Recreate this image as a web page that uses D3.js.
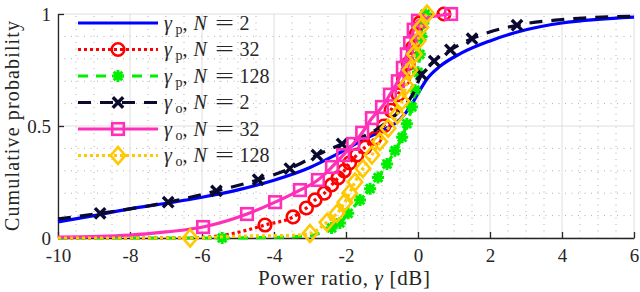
<!DOCTYPE html>
<html><head><meta charset="utf-8">
<script src="https://cdn.jsdelivr.net/npm/d3@7/dist/d3.min.js"></script>
<style>html,body{margin:0;padding:0;background:#fff;}svg{display:block;}</style>
</head><body>
<svg id="c" width="640" height="292"></svg>
<script>
// ---------- data ----------
const xTicks = [-10, -8, -6, -4, -2, 0, 2, 4, 6];
const yTicks = [0, 0.5, 1];
const yTickLabels = ["0", "0.5", "1"];

// gamma_p, N = 2 (blue solid, no markers)
const gpN2 = [[-10,0.072],[-9,0.1],[-8,0.13],[-7,0.155],[-6,0.182],[-5,0.215],[-4,0.258],[-3,0.315],[-2.3,0.37],[-1.5,0.44],[-1,0.48],[-0.5,0.53],[-0.2,0.59],[0,0.645],[0.25,0.71],[0.6,0.765],[1.2,0.825],[2,0.88],[3,0.93],[4,0.96],[5,0.976],[6,0.986]];
const gpN2Marks = [];

// gamma_p, N = 32 (red dotted, circles)
const gpN32 = [[-10,0],[-6.5,0],[-5.6,0.008],[-5.14,0.02],[-4.8,0.033],[-4.25,0.058],[-3.47,0.094],[-3.1,0.134],[-2.86,0.17],[-2.6,0.2],[-2.4,0.237],[-2.22,0.268],[-2.05,0.3],[-1.9,0.335],[-1.7,0.37],[-1.47,0.405],[-1.2,0.445],[-0.95,0.5],[-0.75,0.57],[-0.55,0.64],[-0.4,0.71],[-0.27,0.78],[-0.15,0.85],[-0.05,0.91],[0.05,0.96],[0.15,0.99],[0.72,1]];
const gpN32Marks = [[-4.25,0.058],[-3.47,0.094],[-3.1,0.134],[-2.86,0.17],[-2.6,0.2],[-2.4,0.237],[-2.22,0.268],[-2.05,0.3],[-1.9,0.335],[-1.7,0.37],[-1.47,0.405],[-1.2,0.445],[-0.95,0.5],[-0.75,0.57],[-0.55,0.64],[-0.4,0.71],[-0.27,0.78],[-0.15,0.85],[-0.05,0.91],[0.05,0.96],[0.72,1]];

// gamma_p, N = 128 (green dashed, asterisks)
const gpN128 = [[-10,0],[-5.44,0],[-4,0.003],[-3,0.01],[-2.6,0.03],[-2.4,0.045],[-2.17,0.067],[-1.94,0.11],[-1.61,0.17],[-1.33,0.22],[-1.11,0.27],[-0.86,0.33],[-0.64,0.39],[-0.44,0.45],[-0.31,0.51],[-0.17,0.585],[-0.08,0.66],[0,0.74],[0.05,0.82],[0.1,0.9],[0.15,0.96],[0.2,1]];
const gpN128Marks = [[-5.44,0],[-2.4,0.045],[-2.17,0.067],[-1.94,0.11],[-1.61,0.17],[-1.33,0.22],[-1.11,0.27],[-0.86,0.33],[-0.64,0.39],[-0.44,0.45],[-0.31,0.51],[-0.17,0.585],[-0.08,0.66],[0,0.74],[0.05,0.82],[0.1,0.9],[0.15,0.96],[0.2,1]];

// gamma_o, N = 2 (dark navy dashed, x marks)
const goN2 = [[-10,0.085],[-8.83,0.11],[-6.94,0.16],[-5.6,0.21],[-4.44,0.26],[-3.56,0.31],[-2.81,0.37],[-2.11,0.42],[-1.2,0.48],[-0.5,0.57],[-0.15,0.64],[0.1,0.73],[0.45,0.79],[0.9,0.84],[1.5,0.89],[2.75,0.95],[4,0.975],[6,0.99]];
const goN2Marks = [[-8.83,0.11],[-6.94,0.16],[-5.6,0.21],[-4.44,0.26],[-3.56,0.31],[-2.81,0.37],[-2.11,0.42],[0.1,0.73],[0.45,0.79],[0.9,0.84],[1.5,0.89],[2.75,0.95]];

// gamma_o, N = 32 (magenta solid, squares)
const goN32 = [[-10,0.004],[-8,0.013],[-7,0.027],[-5.97,0.049],[-4.75,0.107],[-3.97,0.16],[-3.28,0.214],[-2.78,0.259],[-2.39,0.317],[-2.08,0.37],[-1.8,0.42],[-1.55,0.47],[-1.28,0.535],[-1,0.585],[-0.78,0.64],[-0.56,0.7],[-0.42,0.76],[-0.31,0.82],[-0.22,0.87],[-0.12,0.93],[0,0.97],[0.92,1]];
const goN32Marks = [[-5.97,0.049],[-4.75,0.107],[-3.97,0.16],[-3.28,0.214],[-2.78,0.259],[-2.39,0.317],[-2.08,0.37],[-1.8,0.42],[-1.55,0.47],[-1.28,0.535],[-1,0.585],[-0.78,0.64],[-0.56,0.7],[-0.42,0.76],[-0.31,0.82],[-0.22,0.87],[-0.12,0.93],[0,0.97],[0.92,1]];

// gamma_o, N = 128 (yellow dotted, diamonds)
const goN128 = [[-10,0],[-6.33,0],[-5,0.008],[-3.5,0.012],[-3,0.02],[-2.53,0.07],[-2.25,0.11],[-2.03,0.16],[-1.9,0.2],[-1.75,0.25],[-1.53,0.31],[-1.28,0.37],[-1.06,0.43],[-0.83,0.49],[-0.58,0.55],[-0.45,0.61],[-0.33,0.68],[-0.22,0.75],[-0.1,0.82],[0,0.88],[0.08,0.94],[0.25,1]];
const goN128Marks = [[-6.33,0],[-3,0.02],[-2.53,0.07],[-2.25,0.11],[-2.03,0.16],[-1.9,0.2],[-1.75,0.25],[-1.53,0.31],[-1.28,0.37],[-1.06,0.43],[-0.83,0.49],[-0.58,0.55],[-0.45,0.61],[-0.33,0.68],[-0.22,0.75],[-0.1,0.82],[0,0.88],[0.08,0.94],[0.25,1]];

const seriesSub = ["p", "p", "p", "o", "o", "o"];
const seriesN = ["2", "32", "128", "2", "32", "128"];

// ---------- styling ----------
const styles = [
  {color:"#0000ff", dash:null,   marker:null},
  {color:"#ff0000", dash:"3,3",  marker:"circle"},
  {color:"#00ee00", dash:"10,8", marker:"star"},
  {color:"#0a0a30", dash:"13,9", marker:"x"},
  {color:"#ff2fb8", dash:null,   marker:"square"},
  {color:"#ffc800", dash:"3,3",  marker:"diamond"}
];
const curves = [gpN2, gpN32, gpN128, goN2, goN32, goN128];
const marks  = [gpN2Marks, gpN32Marks, gpN128Marks, goN2Marks, goN32Marks, goN128Marks];

const FONT = "'Liberation Serif','Times New Roman',serif";
const INK = "#262626";
const svg = d3.select("#c");
const L = 58, R = 634, T = 14, B = 238;
const x = d3.scaleLinear().domain([-10, 6]).range([L, R]);
const y = d3.scaleLinear().domain([0, 1]).range([B, T]);

// minor grid
const gMinor = svg.append("g").attr("stroke", "#b0b0b0").attr("stroke-width", 1).attr("stroke-dasharray", "1,5.5");
gMinor.selectAll("line.vx").data(d3.range(-10, 6.01, 0.5).filter(v => Math.abs(v % 2) > 1e-6))
  .join("line").attr("class","vx").attr("x1", d => x(d)).attr("x2", d => x(d)).attr("y1", B).attr("y2", T);
gMinor.selectAll("line.hy").data(d3.range(0, 1.001, 0.1).filter(v => Math.abs((v * 10) % 5) > 1e-6))
  .join("line").attr("class","hy").attr("y1", d => y(d)).attr("y2", d => y(d)).attr("x1", L).attr("x2", R);

// major grid
const gMajor = svg.append("g").attr("stroke", "#dedede").attr("stroke-width", 1);
gMajor.selectAll("line.v").data(xTicks).join("line").attr("class","v")
  .attr("x1", d => x(d)).attr("x2", d => x(d)).attr("y1", B).attr("y2", T);
gMajor.selectAll("line.h").data(yTicks).join("line").attr("class","h")
  .attr("y1", d => y(d)).attr("y2", d => y(d)).attr("x1", L).attr("x2", R);

// axes (inner ticks, box off)
const ax = svg.append("g").attr("transform", `translate(0,${B})`)
  .call(d3.axisBottom(x).tickValues(xTicks).tickSizeInner(-6).tickSizeOuter(0).tickFormat(d => String(d)));
const ay = svg.append("g").attr("transform", `translate(${L},0)`)
  .call(d3.axisLeft(y).tickValues(yTicks).tickSizeInner(-6).tickSizeOuter(0).tickPadding(7).tickFormat((d,i) => yTickLabels[i]));
[ax, ay].forEach(a => {
  a.select(".domain").attr("stroke", INK).attr("stroke-width", 1.3);
  a.selectAll(".tick line").attr("stroke", INK).attr("stroke-width", 1.3);
  a.selectAll(".tick text").attr("fill", INK).attr("font-family", FONT).attr("font-size", 19);
});
ax.selectAll(".tick text").attr("y", 24).attr("dy", 0);
ay.selectAll(".tick text").attr("dy", "0.33em");

// marker shapes
function drawMarker(g, type, color, cx, cy) {
  const s = g.append("g").attr("transform", `translate(${cx},${cy})`)
    .attr("fill", "none").attr("stroke", color).attr("stroke-width", 2.6);
  if (type === "circle") s.append("circle").attr("r", 6.3);
  else if (type === "square") s.append("rect").attr("x", -5.8).attr("y", -5.8).attr("width", 11.6).attr("height", 11.6);
  else if (type === "diamond") s.append("path").attr("d", "M0,-8.4L7.2,0L0,8.4L-7.2,0Z");
  else if (type === "x") s.append("path").attr("d", "M-5.2,-5.2L5.2,5.2M-5.2,5.2L5.2,-5.2").attr("stroke-width", 3.4);
  else if (type === "star") s.append("path").attr("d", "M-6,0L6,0M0,-6L0,6M-4.3,-4.3L4.3,4.3M-4.3,4.3L4.3,-4.3").attr("stroke-width", 3);
}

// series
const line = d3.line().x(d => x(d[0])).y(d => y(d[1])).curve(d3.curveMonotoneX);
curves.forEach((data, i) => {
  const st = styles[i];
  const g = svg.append("g");
  g.append("path").datum(data).attr("d", line).attr("fill", "none")
    .attr("stroke", st.color).attr("stroke-width", 3.2)
    .attr("stroke-dasharray", st.dash).attr("stroke-linejoin", "round");
  if (st.marker) marks[i].forEach(p => drawMarker(g, st.marker, st.color, x(p[0]), y(p[1])));
});

// legend
const legY = [23, 49.5, 76, 102.5, 129, 155.5];
const lg = svg.append("g").attr("font-family", FONT).attr("fill", INK);
styles.forEach((st, i) => {
  const yy = legY[i];
  lg.append("line").attr("x1", 78).attr("x2", 158).attr("y1", yy).attr("y2", yy)
    .attr("stroke", st.color).attr("stroke-width", 3.2).attr("stroke-dasharray", st.dash);
  if (st.marker) drawMarker(lg, st.marker, st.color, 118, yy);
  const by = yy + 6.5;
  lg.append("text").attr("x", 164).attr("y", by).attr("font-size", 20).attr("font-style", "italic").text("γ");
  lg.append("text").attr("x", 175.5).attr("y", by + 4).attr("font-size", 14).text(seriesSub[i]);
  lg.append("text").attr("x", 182.5).attr("y", by).attr("font-size", 20).text(",");
  lg.append("text").attr("x", 193.5).attr("y", by).attr("font-size", 20).attr("font-style", "italic").text("N");
  lg.append("text").attr("x", 215).attr("y", by).attr("font-size", 20)
    .attr("textLength", 19).attr("lengthAdjust", "spacingAndGlyphs").text("=");
  lg.append("text").attr("x", 239.5).attr("y", by).attr("font-size", 20).text(seriesN[i]);
});

// axis labels
const xl = svg.append("text").attr("x", 258).attr("y", 285)
  .attr("font-family", FONT).attr("font-size", 21).attr("fill", INK)
  .attr("textLength", 172).attr("lengthAdjust", "spacing");
xl.append("tspan").text("Power ratio, ");
xl.append("tspan").attr("font-style", "italic").text("γ");
xl.append("tspan").text(" [dB]");
svg.append("text").attr("transform", "translate(19,126) rotate(-90)").attr("text-anchor", "middle")
  .attr("font-family", FONT).attr("font-size", 20).attr("fill", INK)
  .attr("textLength", 210).attr("lengthAdjust", "spacing").text("Cumulative probability");
</script>
</body></html>
